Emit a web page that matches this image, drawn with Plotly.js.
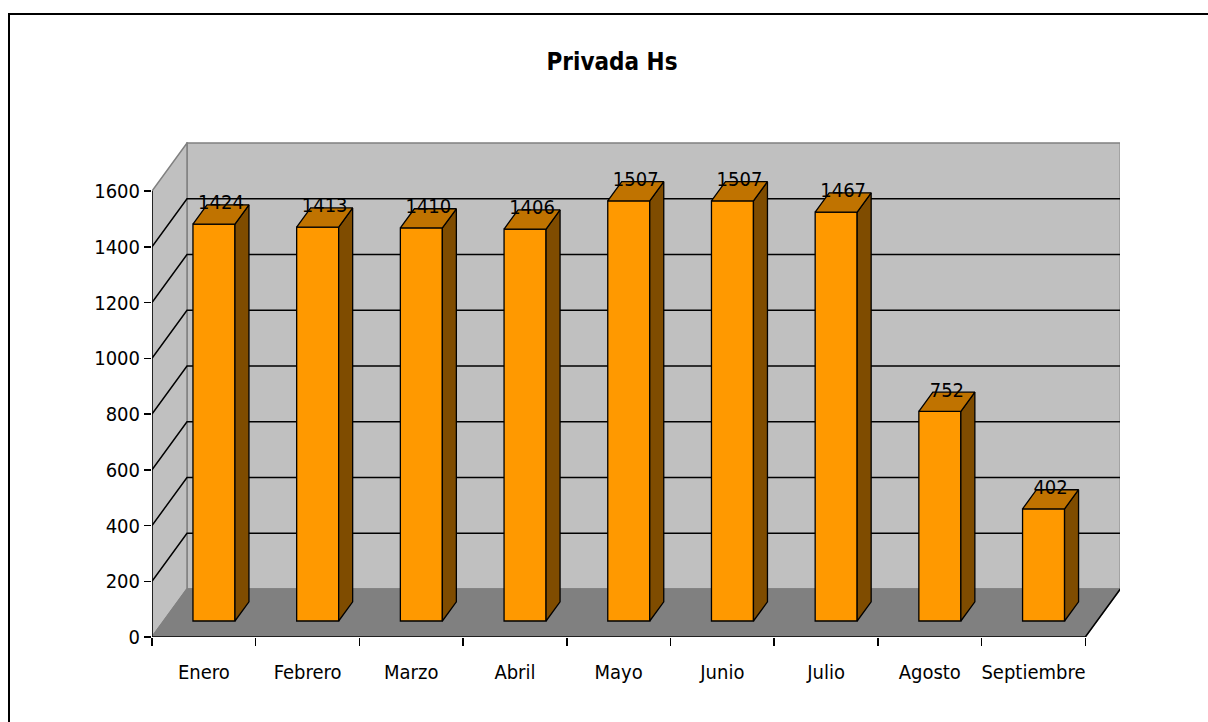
<!DOCTYPE html>
<html>
<head>
<meta charset="utf-8">
<script src="https://cdn.plot.ly/plotly-3.0.1.min.js"></script>
<style>
  html, body { margin: 0; padding: 0; background: #ffffff; overflow: hidden; }
  #chart { position: absolute; left: 0; top: 0; width: 1208px; height: 722px; }
  #frame { position: absolute; left: 8px; top: 13px; width: 1300px; height: 800px;
           border: 2px solid #000; box-sizing: border-box; pointer-events: none; }
</style>
</head>
<body>
<div id="chart"></div>
<div id="frame"></div>
<script>
// ---- data ----
const months = ["Enero", "Febrero", "Marzo", "Abril", "Mayo", "Junio", "Julio", "Agosto", "Septiembre"];
const values = [1424, 1413, 1410, 1406, 1507, 1507, 1467, 752, 402];
const yTickVals = [0, 200, 400, 600, 800, 1000, 1200, 1400, 1600];
const chartTitle = "Privada Hs";

// ---- pseudo-3D geometry (style) ----
const DX = 0.3375;      // full depth offset in x units
const DY = 172.2;       // full depth offset in y units
const FRONT = 1 / 3;    // bar front plane depth fraction
const DEPTH = 0.4;      // bar depth fraction
const BW = 0.405;       // bar width
const BOFF = -0.105;    // bar left edge offset from category centre
const YMAX = yTickVals[yTickVals.length - 1];
const n = months.length;
const xL = -0.5, xR = n - 0.5;
const base = FRONT * DY;
const ddx = DEPTH * DX, ddy = DEPTH * DY;
const idx = months.map((m, i) => i);
const FONT = '"Liberation Sans Narrow", "Arial Narrow", "DejaVu Sans Condensed", Arial, sans-serif';

function poly(pts) {
  return 'M' + pts.map(p => p[0] + ',' + p[1]).join('L') + 'Z';
}
function pline(pts) {
  return 'M' + pts.map(p => p[0] + ',' + p[1]).join('L');
}
const shapes = [];
// back wall
shapes.push({type: 'path', layer: 'below', xref: 'x', yref: 'y',
  path: poly([[xL + DX, DY], [xR + DX, DY], [xR + DX, DY + YMAX], [xL + DX, DY + YMAX]]),
  fillcolor: '#C0C0C0', line: {color: '#808080', width: 1.5}});
// left wall
shapes.push({type: 'path', layer: 'below', xref: 'x', yref: 'y',
  path: poly([[xL, 0], [xL, YMAX], [xL + DX, DY + YMAX], [xL + DX, DY]]),
  fillcolor: '#C0C0C0', line: {color: '#808080', width: 1.5}});
// floor
shapes.push({type: 'path', layer: 'below', xref: 'x', yref: 'y',
  path: poly([[xL, 0], [xR, 0], [xR + DX, DY], [xL + DX, DY]]),
  fillcolor: '#808080', line: {color: '#808080', width: 1.5}});
// gridlines
yTickVals.forEach(v => {
  if (v === 0 || v === YMAX) return;
  shapes.push({type: 'path', layer: 'below', xref: 'x', yref: 'y',
    path: pline([[xL, v], [xL + DX, v + DY], [xR + DX, v + DY]]),
    line: {color: '#000000', width: 1.5}});
});
// front floor edge and value axis line
shapes.push({type: 'path', layer: 'below', xref: 'x', yref: 'y',
  path: pline([[xL, YMAX], [xL, 0], [xR, 0], [xR + DX, DY]]),
  line: {color: '#000000', width: 1.5}});

// side and top faces of bars
const sideX = [], sideY = [], topX = [], topY = [];
values.forEach((v, i) => {
  const xl = i + BOFF, xr = i + BOFF + BW;
  const t = base + v;
  sideX.push(xr, xr + ddx, xr + ddx, xr, xr, null);
  sideY.push(base, base + ddy, t + ddy, t, base, null);
  topX.push(xl, xr, xr + ddx, xl + ddx, xl, null);
  topY.push(t, t, t + ddy, t + ddy, t, null);
});

const traces = [
  {type: 'bar', x: idx, y: values, base: base, width: BW, offset: BOFF,
   marker: {color: '#FF9900', line: {color: '#000000', width: 1.3}},
   hoverinfo: 'skip', showlegend: false},
  {type: 'scatter', mode: 'lines', x: sideX, y: sideY, fill: 'toself',
   fillcolor: '#7F4C00', line: {color: '#000000', width: 1.3},
   hoverinfo: 'skip', showlegend: false},
  {type: 'scatter', mode: 'lines', x: topX, y: topY, fill: 'toself',
   fillcolor: '#C07300', line: {color: '#000000', width: 1.3},
   hoverinfo: 'skip', showlegend: false},
  {type: 'scatter', mode: 'text',
   x: idx.map(i => i + BOFF + BW / 2 + ddx / 2),
   y: values.map(v => base + v + ddy + 2),
   text: values.map(String), textposition: 'middle center',
   textfont: {family: FONT, size: 20, color: '#000000'},
   hoverinfo: 'skip', showlegend: false},
  // carrier for the boundary ticks of the category axis
  {type: 'scatter', mode: 'markers', x: [xL], y: [0], xaxis: 'x2',
   marker: {opacity: 0}, hoverinfo: 'skip', showlegend: false}
];

const xMaxRange = xL + 968 / 103.7;
const layout = {
  width: 1208, height: 722,
  margin: {l: 152, r: 88, t: 142, b: 85, pad: 0},
  paper_bgcolor: '#ffffff', plot_bgcolor: '#ffffff',
  showlegend: false,
  title: {text: '<b>' + chartTitle + '</b>', x: 612 / 1208, xanchor: 'center',
          y: 1 - 62 / 722, yanchor: 'middle',
          font: {family: FONT, size: 24, color: '#000000'}},
  xaxis: {range: [xL, xMaxRange], tickvals: idx, ticktext: months, ticks: '',
          showgrid: false, zeroline: false, showline: false,
          ticklabelstandoff: 21,
          tickfont: {family: FONT, size: 20, color: '#000000'}},
  xaxis2: {overlaying: 'x', side: 'bottom', range: [xL, xMaxRange],
           tickvals: idx.map(i => i - 0.5).concat([xR]), ticks: 'outside', ticklen: 8,
           tickwidth: 1.5, tickcolor: '#000000',
           showticklabels: false, showgrid: false, zeroline: false, showline: false},
  yaxis: {range: [0, 495 / 0.27875], tickvals: yTickVals, ticks: 'outside', ticklen: 7,
          tickwidth: 1.5, tickcolor: '#000000',
          showgrid: false, zeroline: false, showline: false,
          tickfont: {family: FONT, size: 20, color: '#000000'}},
  shapes: shapes,
  bargap: 0
};

Plotly.newPlot('chart', traces, layout, {staticPlot: true, displayModeBar: false});
</script>
</body>
</html>
